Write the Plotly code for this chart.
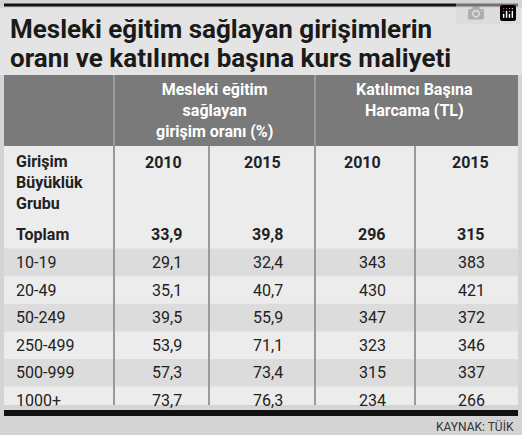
import plotly.graph_objects as go

groups = ["Toplam", "10-19", "20-49", "50-249", "250-499", "500-999", "1000+"]
oran_2010 = ["33,9", "29,1", "35,1", "39,5", "53,9", "57,3", "73,7"]
oran_2015 = ["39,8", "32,4", "40,7", "55,9", "71,1", "73,4", "76,3"]
harcama_2010 = ["296", "343", "430", "347", "323", "315", "234"]
harcama_2015 = ["315", "383", "421", "372", "346", "337", "266"]
years = ["2010", "2015", "2010", "2015"]
title_lines = ["Mesleki eğitim sağlayan girişimlerin", "oranı ve katılımcı başına kurs maliyeti"]
header1 = "Mesleki eğitim<br>sağlayan<br>girişim oranı (%)"
header2 = "Katılımcı Başına<br>Harcama (TL)"
row_header = "Girişim<br>Büyüklük<br>Grubu"
source = "KAYNAK: TÜİK"

F = "Liberation Sans Narrow, Roboto, sans-serif"
fig = go.Figure()
shapes = []
ann = []
def rect(x0, y0, x1, y1, color, lw=0, lc=None):
    shapes.append(dict(type="rect", x0=x0, y0=y0, x1=x1, y1=y1, fillcolor=color,
                       line=dict(width=lw, color=lc or color), layer="below"))
def line(x0, y0, x1, y1, color="#999", w=1.5):
    shapes.append(dict(type="line", x0=x0, y0=y0, x1=x1, y1=y1, line=dict(color=color, width=w)))
def text(x, y, t, size=15, color="#222", bold=False, xa="center", ya="middle"):
    ann.append(dict(x=x, y=y, text=f"<b>{t}</b>" if bold else t, showarrow=False, xanchor=xa,
                    yanchor=ya, font=dict(family=F, size=size, color=color), align=xa))

rect(0, 0, 522, 435, "#d4d4d4")
rect(0, 8, 522, 75, "#e4e4e4")
line(4, 5, 518, 5, "#111", 3)
text(8, 29, title_lines[0], 26, "#1a1a1a", True, "left")
text(8, 58, title_lines[1], 26, "#1a1a1a", True, "left")
rect(4, 75, 518, 146, "#7a7a7a")
rect(4, 146, 518, 405, "#ececec")
row_h = 27.6
y0 = 221
for i in range(len(groups)):
    if i % 2 == 1:
        rect(4, y0 + i * row_h, 518, y0 + (i + 1) * row_h, "#dcdcdc")
line(114, 75, 114, 405, "#9a9a9a", 2)
line(315, 75, 315, 405, "#9a9a9a", 2)
line(209, 146, 209, 405, "#9a9a9a", 2)
line(415, 146, 415, 405, "#9a9a9a", 2)
text(214, 110, header1, 16, "white", True)
text(414, 100, header2, 16, "white", True)
text(14, 182, row_header, 16, "#222", True, "left")
for x, y in zip([163, 262, 362, 470], years):
    text(x, 162, y, 16, "#222", True)
for i, g in enumerate(groups):
    yc = y0 + (i + 0.5) * row_h
    b = i == 0
    text(14, yc, g, 16, "#222", b, "left")
    for x, v in zip([184, 285, 388, 487], [oran_2010[i], oran_2015[i], harcama_2010[i], harcama_2015[i]]):
        text(x, yc, v, 16, "#222", b, "right")
rect(4, 410, 518, 416, "#111")
text(516, 426, source, 12, "#333", False, "right")

fig.update_layout(width=522, height=435, margin=dict(l=0, r=0, t=0, b=0),
                  shapes=shapes, annotations=ann, paper_bgcolor="#d4d4d4", plot_bgcolor="#d4d4d4",
                  xaxis=dict(range=[0, 522], visible=False, fixedrange=True),
                  yaxis=dict(range=[435, 0], visible=False, fixedrange=True), showlegend=False)
fig.write_html("out.html", post_script="document.body.style.margin='0';document.body.style.overflow='hidden';")
